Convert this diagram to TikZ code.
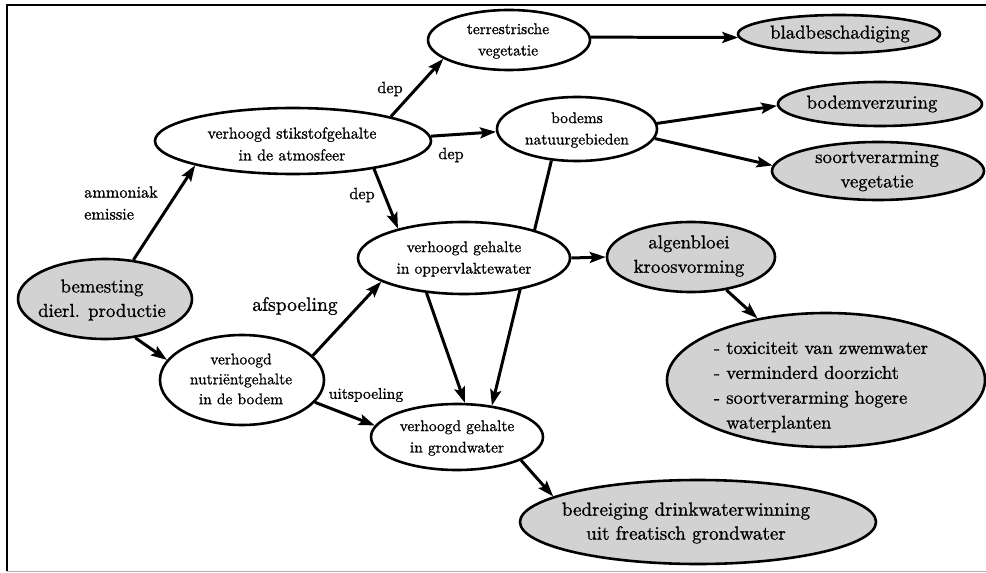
\documentclass[tikz,border=0pt]{standalone}
\usepackage{fontspec}
\setmainfont{lmroman10-regular.otf}[FakeBold=1]
\usetikzlibrary{shapes.geometric,arrows.meta,backgrounds}

\tikzset{
  ell/.style={ellipse, draw, line width=2.6pt, inner sep=0pt, fill=white},
  grayell/.style={ell, fill=gray!35},
  smalltxt/.style={align=center, inner sep=0pt, font=\fontsize{15.5}{21.5}\selectfont},
  bigtxt/.style={align=center, inner sep=0pt, font=\fontsize{18.8}{24.5}\selectfont},
  lbl/.style={inner sep=0pt, font=\fontsize{16.3}{22}\selectfont},
  arr/.style={line width=3pt, -{Stealth[length=16pt,width=11pt,inset=3pt]}},
}

\begin{document}
\begin{tikzpicture}[x=1bp, y=-1bp]
\useasboundingbox (0,0) rectangle (986,573);

% frame
\draw[line width=2.4pt] (986,5) -- (7,5) -- (7,571);
\draw[line width=1pt, gray!60] (7,571) -- (986,571);

% ellipses
\node[grayell, minimum width=174bp, minimum height=80bp] (bem) at (105,299) {};
\node[ell, minimum width=276bp, minimum height=66bp] (stik) at (293,141) {};
\node[ell, minimum width=162bp, minimum height=60bp] (terr) at (509,40) {};
\node[grayell, minimum width=202bp, minimum height=38bp] (blad) at (839,34) {};
\node[ell, minimum width=160bp, minimum height=64bp] (nat) at (577,129) {};
\node[grayell, minimum width=204bp, minimum height=44bp] (verz) at (880,104) {};
\node[grayell, minimum width=212bp, minimum height=58bp] (soort) at (878,171) {};
\node[ell, minimum width=212bp, minimum height=72bp] (opp) at (464,258) {};
\node[grayell, minimum width=168bp, minimum height=70bp] (alg) at (691,257) {};
\node[grayell, minimum width=318bp, minimum height=134bp] (tox) at (826,380) {};
\node[ell, minimum width=164bp, minimum height=90bp] (nut) at (242,380) {};
\node[ell, minimum width=172bp, minimum height=66bp] (grw) at (457,437) {};
\node[grayell, minimum width=356bp, minimum height=84bp] (drink) at (698,522) {};

% texts inside the ellipses
\node[bigtxt] (bem-t) at (102,300) {bemesting\\dierl. productie};
\node[smalltxt, font=\fontsize{16}{22}\selectfont] (stik-t) at (292,144) {verhoogd stikstofgehalte\\in de atmosfeer};
\node[smalltxt] (terr-t) at (508,41) {terrestrische\\vegetatie};
\node[bigtxt] (blad-t) at (840,34) {bladbeschadiging};
\node[smalltxt] (nat-t) at (577,130) {bodems\\natuurgebieden};
\node[bigtxt] (verz-t) at (872,104) {bodemverzuring};
\node[bigtxt] (soort-t) at (877,171) {soortverarming\\vegetatie};
\node[smalltxt] (opp-t) at (464,259) {verhoogd gehalte\\in oppervlaktewater};
\node[bigtxt] (alg-t) at (689,256) {algenbloei\\kroosvorming};
\node[align=left, inner sep=0pt, font=\fontsize{18.6}{25}\selectfont] (tox-t) at (821,387)
  {- toxiciteit van zwemwater\\- verminderd doorzicht\\- soortverarming hogere\\\phantom{- }waterplanten};
\node[smalltxt, font=\fontsize{15.5}{20}\selectfont] (nut-t) at (241,379) {verhoogd\\nutriëntgehalte\\in de bodem};
\node[smalltxt] (grw-t) at (457,438) {verhoogd gehalte\\in grondwater};
\node[align=center, inner sep=0pt, font=\fontsize{19.1}{24}\selectfont] (drink-t) at (686,523)
  {bedreiging drinkwaterwinning\\uit freatisch grondwater};

% connector labels
\node[lbl, align=left] (l-amm) at (121,203) {ammoniak\\emissie};
\node[lbl] (l-dep1) at (390,89) {dep};
\node[lbl] (l-dep2) at (451,155) {dep};
\node[lbl] (l-dep3) at (362,195) {dep};
\node[lbl, font=\fontsize{19.6}{24}\selectfont] (l-afs) at (295,306) {afspoeling};
\node[lbl, font=\fontsize{15.6}{22}\selectfont] (l-uit) at (366,395) {uitspoeling};

% connectors
\begin{scope}[on background layer]
  \fill[white] (0,0) rectangle (986,573);
  \draw[arr] (nat.-129) -- (grw.42);
\end{scope}
\draw[arr] (bem.54) -- (stik.194);
\draw[arr] (bem.-52) -- (nut.165);
\draw[arr] (stik.14) -- (terr.196);
\draw[arr] (stik.2) -- (nat.182);
\draw[arr] (stik.-19) -- (opp.156);
\draw[arr] (terr.2) -- (blad.182);
\draw[arr] (nat.4) -- (verz.181);
\draw[arr] (nat.-7) -- (soort.177);
\draw[arr] (opp.0) -- (alg.180);
\draw[arr] (opp.-137) -- (grw.77);
\draw[arr] (alg.-43) -- (tox.138);
\draw[arr] (nut.19) -- (opp.196);
\draw[arr] (nut.-17) -- (grw.172);
\draw[arr] (grw.-20) -- (drink.170);
\end{tikzpicture}
\end{document}
